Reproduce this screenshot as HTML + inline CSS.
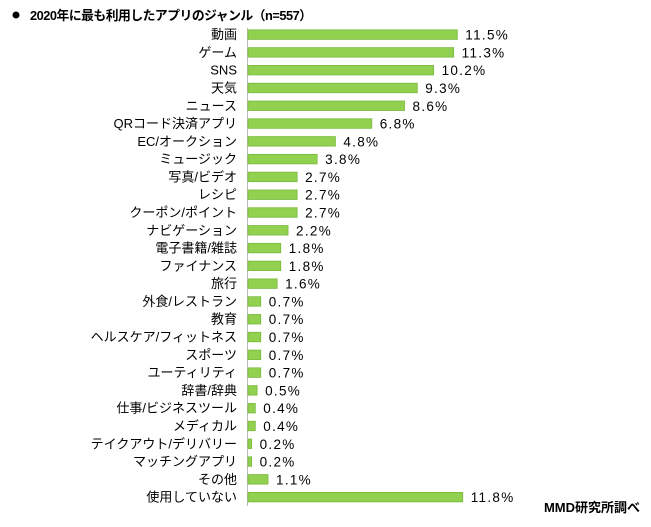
<!DOCTYPE html>
<html><head><meta charset="utf-8"><style>
body{margin:0;background:#fff;width:651px;height:522px;overflow:hidden;font-family:"Liberation Sans","Noto Sans CJK JP",sans-serif;}
svg text{font-family:"Liberation Sans","Noto Sans CJK JP",sans-serif;}
</style></head><body>
<svg id="c" width="651" height="522">
<circle cx="16" cy="15" r="3.5" fill="#000"/>
<text x="30" y="20" font-size="12.8" font-weight="bold" textLength="282">2020年に最も利用したアプリのジャンル（n=557）</text>
<text x="640" y="512" font-size="13" font-weight="bold" text-anchor="end">MMD研究所調べ</text>
<line x1="247.5" y1="28" x2="247.5" y2="506" stroke="#bbb"/>
<g id="bars"></g>
</svg>
<script>
const categories=["動画","ゲーム","SNS","天気","ニュース","QRコード決済アプリ","EC/オークション","ミュージック","写真/ビデオ","レシピ","クーポン/ポイント","ナビゲーション","電子書籍/雑誌","ファイナンス","旅行","外食/レストラン","教育","ヘルスケア/フィットネス","スポーツ","ユーティリティ","辞書/辞典","仕事/ビジネスツール","メディカル","テイクアウト/デリバリー","マッチングアプリ","その他","使用していない"];
const values=[11.5,11.3,10.2,9.3,8.6,6.8,4.8,3.8,2.7,2.7,2.7,2.2,1.8,1.8,1.6,0.7,0.7,0.7,0.7,0.7,0.5,0.4,0.4,0.2,0.2,1.1,11.8];
const x0=248, pxPer=18.2, y0=34.6, step=17.79, bh=9.5;
const xs=v=>v*pxPer;
const ys=i=>y0+i*step;
const g=document.getElementById('bars');
const NS='http://www.w3.org/2000/svg';
categories.forEach((c,i)=>{
  const y=ys(i);
  const t=document.createElementNS(NS,'text');
  t.setAttribute('x',237);t.setAttribute('y',y+4.5);t.setAttribute('font-size','13');t.setAttribute('text-anchor','end');
  t.textContent=c;
  
  
  g.appendChild(t);
  const r=document.createElementNS(NS,'rect');
  r.setAttribute('x',x0);r.setAttribute('y',y-bh/2);r.setAttribute('width',Math.max(xs(values[i]),1));r.setAttribute('height',bh);
  r.setAttribute('fill','#92d050');r.setAttribute('stroke','#78b83a');r.setAttribute('stroke-width','0.8');
  
  
  g.appendChild(r);
  const v=document.createElementNS(NS,'text');
  v.setAttribute('x',x0+xs(values[i])+8);v.setAttribute('y',y+5);v.setAttribute('font-size','13.5');v.setAttribute('letter-spacing','1.3');
  v.textContent=values[i].toFixed(1)+'%';
  
  
  g.appendChild(v);
});
</script>
</body></html>
